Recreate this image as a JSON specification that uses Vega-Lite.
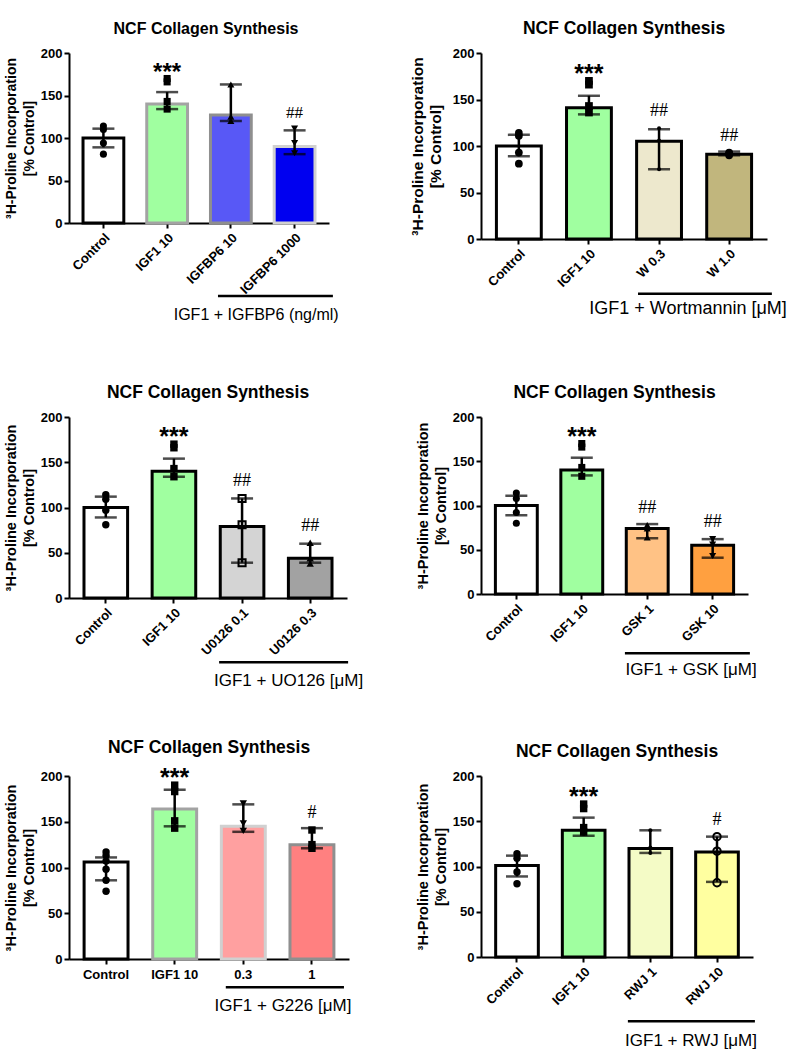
{
 "$schema": "https://vega.github.io/schema/vega-lite/v6.json",
 "background": "white",
 "padding": {"left": 3, "top": 19, "right": 0, "bottom": 0},
 "datasets": {
  "b1": [
   {"g": "Control", "mean": 100, "lo": 89, "hi": 111},
   {"g": "IGF1 10", "mean": 140, "lo": 134, "hi": 154, "sig": "***"},
   {"g": "IGFBP6 10", "mean": 127, "lo": 120, "hi": 163},
   {"g": "IGFBP6 1000", "mean": 90, "lo": 81, "hi": 109, "sig": "##"}
  ],
  "p1": [
   {"g": "Control", "v": 114}, {"g": "Control", "v": 110}, {"g": "Control", "v": 94}, {"g": "Control", "v": 81},
   {"g": "IGF1 10", "v": 170}, {"g": "IGF1 10", "v": 166}, {"g": "IGF1 10", "v": 143}, {"g": "IGF1 10", "v": 134},
   {"g": "IGFBP6 10", "v": 163}, {"g": "IGFBP6 10", "v": 125}, {"g": "IGFBP6 10", "v": 120},
   {"g": "IGFBP6 1000", "v": 111}, {"g": "IGFBP6 1000", "v": 94}, {"g": "IGFBP6 1000", "v": 82}
  ],
  "b2": [
   {"g": "Control", "mean": 100, "lo": 89, "hi": 112},
   {"g": "IGF1 10", "mean": 141, "lo": 134, "hi": 154, "sig": "***"},
   {"g": "W 0.3", "mean": 105, "lo": 75, "hi": 118, "sig": "##"},
   {"g": "W 1.0", "mean": 91, "lo": 90, "hi": 94, "sig": "##"}
  ],
  "p2": [
   {"g": "Control", "v": 114}, {"g": "Control", "v": 111}, {"g": "Control", "v": 93}, {"g": "Control", "v": 81},
   {"g": "IGF1 10", "v": 170}, {"g": "IGF1 10", "v": 166}, {"g": "IGF1 10", "v": 143}, {"g": "IGF1 10", "v": 136},
   {"g": "W 0.3", "v": 119}, {"g": "W 0.3", "v": 106}, {"g": "W 0.3", "v": 75},
   {"g": "W 1.0", "v": 93}, {"g": "W 1.0", "v": 92}, {"g": "W 1.0", "v": 90}
  ],
  "b3": [
   {"g": "Control", "mean": 100, "lo": 89, "hi": 112},
   {"g": "IGF1 10", "mean": 140, "lo": 134, "hi": 154, "sig": "***"},
   {"g": "U0126 0.1", "mean": 79, "lo": 39, "hi": 110, "sig": "##"},
   {"g": "U0126 0.3", "mean": 44, "lo": 39, "hi": 60, "sig": "##"}
  ],
  "p3": [
   {"g": "Control", "v": 114}, {"g": "Control", "v": 109}, {"g": "Control", "v": 97}, {"g": "Control", "v": 81},
   {"g": "IGF1 10", "v": 170}, {"g": "IGF1 10", "v": 166}, {"g": "IGF1 10", "v": 143}, {"g": "IGF1 10", "v": 134},
   {"g": "U0126 0.1", "v": 110}, {"g": "U0126 0.1", "v": 81}, {"g": "U0126 0.1", "v": 39},
   {"g": "U0126 0.3", "v": 61}, {"g": "U0126 0.3", "v": 44}, {"g": "U0126 0.3", "v": 38}
  ],
  "b4": [
   {"g": "Control", "mean": 100, "lo": 89, "hi": 111},
   {"g": "IGF1 10", "mean": 140, "lo": 134, "hi": 154, "sig": "***"},
   {"g": "GSK 1", "mean": 74, "lo": 63, "hi": 79, "sig": "##"},
   {"g": "GSK 10", "mean": 55, "lo": 41, "hi": 62, "sig": "##"}
  ],
  "p4": [
   {"g": "Control", "v": 114}, {"g": "Control", "v": 108}, {"g": "Control", "v": 92}, {"g": "Control", "v": 80},
   {"g": "IGF1 10", "v": 170}, {"g": "IGF1 10", "v": 166}, {"g": "IGF1 10", "v": 143}, {"g": "IGF1 10", "v": 133},
   {"g": "GSK 1", "v": 78}, {"g": "GSK 1", "v": 74}, {"g": "GSK 1", "v": 64},
   {"g": "GSK 10", "v": 62}, {"g": "GSK 10", "v": 56}, {"g": "GSK 10", "v": 43}
  ],
  "b5": [
   {"g": "Control", "mean": 106, "lo": 86, "hi": 111},
   {"g": "IGF1 10", "mean": 164, "lo": 145, "hi": 185, "sig": "***"},
   {"g": "0.3", "mean": 145, "lo": 139, "hi": 169},
   {"g": "1", "mean": 125, "lo": 121, "hi": 143, "sig": "#"}
  ],
  "p5": [
   {"g": "Control", "v": 117}, {"g": "Control", "v": 113}, {"g": "Control", "v": 107}, {"g": "Control", "v": 98}, {"g": "Control", "v": 86}, {"g": "Control", "v": 74},
   {"g": "IGF1 10", "v": 190}, {"g": "IGF1 10", "v": 183}, {"g": "IGF1 10", "v": 151}, {"g": "IGF1 10", "v": 143},
   {"g": "0.3", "v": 170}, {"g": "0.3", "v": 148}, {"g": "0.3", "v": 140},
   {"g": "1", "v": 141}, {"g": "1", "v": 125}, {"g": "1", "v": 121}
  ],
  "b6": [
   {"g": "Control", "mean": 101, "lo": 89, "hi": 112},
   {"g": "IGF1 10", "mean": 140, "lo": 134, "hi": 154, "sig": "***"},
   {"g": "RWJ 1", "mean": 120, "lo": 115, "hi": 140},
   {"g": "RWJ 10", "mean": 116, "lo": 83, "hi": 133, "sig": "#"}
  ],
  "p6": [
   {"g": "Control", "v": 114}, {"g": "Control", "v": 109}, {"g": "Control", "v": 94}, {"g": "Control", "v": 81},
   {"g": "IGF1 10", "v": 169}, {"g": "IGF1 10", "v": 164}, {"g": "IGF1 10", "v": 143}, {"g": "IGF1 10", "v": 138},
   {"g": "RWJ 1", "v": 140}, {"g": "RWJ 1", "v": 121}, {"g": "RWJ 1", "v": 115},
   {"g": "RWJ 10", "v": 133}, {"g": "RWJ 10", "v": 117}, {"g": "RWJ 10", "v": 82}
  ]
 },
 "columns": 2,
 "bounds": "flush",
 "align": "each",
 "spacing": {"row": 178, "column": 132},
 "resolve": {"scale": {"fill": "independent", "stroke": "independent", "shape": "independent"}},
 "concat": [
  {
   "width": 260, "height": 170,
   "title": {"text": "NCF Collagen Synthesis", "fontSize": 16, "dx": 7},
   "resolve": {"scale": {"x": "independent"}},
   "layer": [
    {"data": {"name": "b1"}, "mark": {"type": "bar", "strokeWidth": 3},
     "encoding": {
      "x": {"field": "g", "type": "nominal", "sort": null, "scale": {"type": "band", "domain": ["Control", "IGF1 10", "IGFBP6 10", "IGFBP6 1000"], "paddingInner": 0.36, "paddingOuter": 0.22}, "axis": {"title": null}},
      "y": {"field": "mean", "type": "quantitative", "scale": {"domain": [0, 200]}, "axis": {"values": [0, 50, 100, 150, 200], "title": ["³H-Proline Incorporation", "[% Control]"], "titleFontSize": 14}},
      "fill": {"field": "g", "type": "nominal", "scale": {"domain": ["Control", "IGF1 10", "IGFBP6 10", "IGFBP6 1000"], "range": ["#ffffff", "#a0ffa0", "#5858f6", "#0000f0"]}, "legend": null},
      "stroke": {"field": "g", "type": "nominal", "scale": {"domain": ["Control", "IGF1 10", "IGFBP6 10", "IGFBP6 1000"], "range": ["#000000", "#a3a3a3", "#8f8f8f", "#d0d0d0"]}, "legend": null}}},
    {"data": {"name": "b1"}, "mark": {"type": "rule", "strokeWidth": 2.5, "color": "black"},
     "encoding": {
      "x": {"field": "g", "type": "nominal", "sort": null, "scale": {"type": "band", "domain": ["Control", "IGF1 10", "IGFBP6 10", "IGFBP6 1000"], "paddingInner": 0.36, "paddingOuter": 0.22}, "axis": null},
      "y": {"field": "lo", "type": "quantitative", "scale": {"domain": [0, 200]}},
      "y2": {"field": "hi"}}},
    {"data": {"name": "b1"}, "mark": {"type": "tick", "thickness": 2.5, "size": 22, "color": "black"},
     "encoding": {
      "x": {"field": "g", "type": "nominal", "sort": null, "scale": {"type": "band", "domain": ["Control", "IGF1 10", "IGFBP6 10", "IGFBP6 1000"], "paddingInner": 0.36, "paddingOuter": 0.22}, "axis": null},
      "y": {"field": "hi", "type": "quantitative", "scale": {"domain": [0, 200]}}}},
    {"data": {"name": "b1"}, "mark": {"type": "tick", "thickness": 2.5, "size": 22, "color": "black"},
     "encoding": {
      "x": {"field": "g", "type": "nominal", "sort": null, "scale": {"type": "band", "domain": ["Control", "IGF1 10", "IGFBP6 10", "IGFBP6 1000"], "paddingInner": 0.36, "paddingOuter": 0.22}, "axis": null},
      "y": {"field": "lo", "type": "quantitative", "scale": {"domain": [0, 200]}}}},
    {"data": {"name": "p1"}, "mark": {"type": "point", "filled": true, "color": "black", "opacity": 1, "size": 50},
     "encoding": {
      "x": {"field": "g", "type": "nominal", "sort": null, "scale": {"type": "band", "domain": ["Control", "IGF1 10", "IGFBP6 10", "IGFBP6 1000"], "paddingInner": 0.36, "paddingOuter": 0.22}, "axis": null},
      "y": {"field": "v", "type": "quantitative", "scale": {"domain": [0, 200]}},
      "shape": {"field": "g", "type": "nominal", "scale": {"domain": ["Control", "IGF1 10", "IGFBP6 10", "IGFBP6 1000"], "range": ["circle", "square", "triangle-up", "triangle-down"]}, "legend": null}}},
    {"data": {"name": "p1"},
     "transform": [{"aggregate": [{"op": "max", "field": "v", "as": "top"}], "groupby": ["g"]}, {"lookup": "g", "from": {"data": {"name": "b1"}, "key": "g", "fields": ["sig"]}}, {"filter": "datum.sig === '***'"}],
     "mark": {"type": "text", "font": "Liberation Sans", "fontWeight": "bold", "fontSize": 24, "baseline": "alphabetic", "dy": 1, "color": "black"},
     "encoding": {
      "x": {"field": "g", "type": "nominal", "sort": null, "scale": {"type": "band", "domain": ["Control", "IGF1 10", "IGFBP6 10", "IGFBP6 1000"], "paddingInner": 0.36, "paddingOuter": 0.22}, "axis": null},
      "y": {"field": "top", "type": "quantitative", "scale": {"domain": [0, 200]}},
      "text": {"field": "sig"}}},
    {"data": {"name": "p1"},
     "transform": [{"aggregate": [{"op": "max", "field": "v", "as": "top"}], "groupby": ["g"]}, {"lookup": "g", "from": {"data": {"name": "b1"}, "key": "g", "fields": ["sig"]}}, {"filter": "datum.sig && datum.sig !== '***'"}],
     "mark": {"type": "text", "font": "Liberation Serif", "fontSize": 17, "baseline": "alphabetic", "dy": -11, "color": "black"},
     "encoding": {
      "x": {"field": "g", "type": "nominal", "sort": null, "scale": {"type": "band", "domain": ["Control", "IGF1 10", "IGFBP6 10", "IGFBP6 1000"], "paddingInner": 0.36, "paddingOuter": 0.22}, "axis": null},
      "y": {"field": "top", "type": "quantitative", "scale": {"domain": [0, 200]}},
      "text": {"field": "sig"}}},
    {"data": {"values": [{}]}, "mark": {"type": "rule", "strokeWidth": 2.5, "color": "black"},
     "encoding": {
      "x": {"datum": 0.573, "type": "quantitative", "scale": {"domain": [0, 1]}, "axis": null},
      "x2": {"datum": 1.015},
      "y": {"datum": -86, "type": "quantitative", "scale": {"domain": [0, 200]}}}},
    {"data": {"values": [{}]}, "mark": {"type": "text", "font": "Liberation Sans", "fontSize": 16, "align": "center", "baseline": "middle", "color": "black"},
     "encoding": {
      "x": {"datum": 0.72, "type": "quantitative", "scale": {"domain": [0, 1]}, "axis": null},
      "y": {"datum": -108, "type": "quantitative", "scale": {"domain": [0, 200]}},
      "text": {"value": "IGF1 + IGFBP6 (ng/ml)"}}}
   ]
  },
  {
   "width": 286, "height": 186,
   "title": {"text": "NCF Collagen Synthesis"},
   "resolve": {"scale": {"x": "independent"}},
   "layer": [
    {"data": {"name": "b2"}, "mark": {"type": "bar", "strokeWidth": 3},
     "encoding": {
      "x": {"field": "g", "type": "nominal", "sort": null, "scale": {"type": "band", "domain": ["Control", "IGF1 10", "W 0.3", "W 1.0"], "paddingInner": 0.36, "paddingOuter": 0.22}, "axis": {"title": null}},
      "y": {"field": "mean", "type": "quantitative", "scale": {"domain": [0, 200]}, "axis": {"values": [0, 50, 100, 150, 200], "title": ["³H-Proline Incorporation", "[% Control]"], "titleFontSize": 15.5, "titlePadding": 9}},
      "fill": {"field": "g", "type": "nominal", "scale": {"domain": ["Control", "IGF1 10", "W 0.3", "W 1.0"], "range": ["#ffffff", "#a0ffa0", "#ede8cd", "#c1b67d"]}, "legend": null},
      "stroke": {"field": "g", "type": "nominal", "scale": {"domain": ["Control", "IGF1 10", "W 0.3", "W 1.0"], "range": ["#000000", "#000000", "#000000", "#000000"]}, "legend": null}}},
    {"data": {"name": "b2"}, "mark": {"type": "rule", "strokeWidth": 2.5, "color": "black"},
     "encoding": {
      "x": {"field": "g", "type": "nominal", "sort": null, "scale": {"type": "band", "domain": ["Control", "IGF1 10", "W 0.3", "W 1.0"], "paddingInner": 0.36, "paddingOuter": 0.22}, "axis": null},
      "y": {"field": "lo", "type": "quantitative", "scale": {"domain": [0, 200]}},
      "y2": {"field": "hi"}}},
    {"data": {"name": "b2"}, "mark": {"type": "tick", "thickness": 2.5, "size": 22, "color": "black"},
     "encoding": {
      "x": {"field": "g", "type": "nominal", "sort": null, "scale": {"type": "band", "domain": ["Control", "IGF1 10", "W 0.3", "W 1.0"], "paddingInner": 0.36, "paddingOuter": 0.22}, "axis": null},
      "y": {"field": "hi", "type": "quantitative", "scale": {"domain": [0, 200]}}}},
    {"data": {"name": "b2"}, "mark": {"type": "tick", "thickness": 2.5, "size": 22, "color": "black"},
     "encoding": {
      "x": {"field": "g", "type": "nominal", "sort": null, "scale": {"type": "band", "domain": ["Control", "IGF1 10", "W 0.3", "W 1.0"], "paddingInner": 0.36, "paddingOuter": 0.22}, "axis": null},
      "y": {"field": "lo", "type": "quantitative", "scale": {"domain": [0, 200]}}}},
    {"data": {"name": "p2"}, "transform": [{"filter": {"field": "g", "oneOf": ["Control", "IGF1 10", "W 1.0"]}}],
     "mark": {"type": "point", "filled": true, "color": "black", "opacity": 1, "size": 60},
     "encoding": {
      "x": {"field": "g", "type": "nominal", "sort": null, "scale": {"type": "band", "domain": ["Control", "IGF1 10", "W 0.3", "W 1.0"], "paddingInner": 0.36, "paddingOuter": 0.22}, "axis": null},
      "y": {"field": "v", "type": "quantitative", "scale": {"domain": [0, 200]}},
      "shape": {"field": "g", "type": "nominal", "scale": {"domain": ["Control", "IGF1 10", "W 0.3", "W 1.0"], "range": ["circle", "square", "circle", "circle"]}, "legend": null}}},
    {"data": {"name": "p2"}, "transform": [{"filter": {"field": "g", "oneOf": ["W 0.3"]}}],
     "mark": {"type": "point", "filled": true, "color": "black", "opacity": 1, "size": 16, "shape": "circle"},
     "encoding": {
      "x": {"field": "g", "type": "nominal", "sort": null, "scale": {"type": "band", "domain": ["Control", "IGF1 10", "W 0.3", "W 1.0"], "paddingInner": 0.36, "paddingOuter": 0.22}, "axis": null},
      "y": {"field": "v", "type": "quantitative", "scale": {"domain": [0, 200]}}}},
    {"data": {"name": "p2"},
     "transform": [{"aggregate": [{"op": "max", "field": "v", "as": "top"}], "groupby": ["g"]}, {"lookup": "g", "from": {"data": {"name": "b2"}, "key": "g", "fields": ["sig"]}}, {"filter": "datum.sig === '***'"}],
     "mark": {"type": "text", "font": "Liberation Sans", "fontWeight": "bold", "fontSize": 25, "baseline": "alphabetic", "dy": 1, "color": "black"},
     "encoding": {
      "x": {"field": "g", "type": "nominal", "sort": null, "scale": {"type": "band", "domain": ["Control", "IGF1 10", "W 0.3", "W 1.0"], "paddingInner": 0.36, "paddingOuter": 0.22}, "axis": null},
      "y": {"field": "top", "type": "quantitative", "scale": {"domain": [0, 200]}},
      "text": {"field": "sig"}}},
    {"data": {"name": "p2"},
     "transform": [{"aggregate": [{"op": "max", "field": "v", "as": "top"}], "groupby": ["g"]}, {"lookup": "g", "from": {"data": {"name": "b2"}, "key": "g", "fields": ["sig"]}}, {"filter": "datum.sig && datum.sig !== '***'"}],
     "mark": {"type": "text", "font": "Liberation Serif", "fontSize": 18, "baseline": "alphabetic", "dy": -12, "color": "black"},
     "encoding": {
      "x": {"field": "g", "type": "nominal", "sort": null, "scale": {"type": "band", "domain": ["Control", "IGF1 10", "W 0.3", "W 1.0"], "paddingInner": 0.36, "paddingOuter": 0.22}, "axis": null},
      "y": {"field": "top", "type": "quantitative", "scale": {"domain": [0, 200]}},
      "text": {"field": "sig"}}},
    {"data": {"values": [{}]}, "mark": {"type": "rule", "strokeWidth": 2.5, "color": "black"},
     "encoding": {
      "x": {"datum": 0.549, "type": "quantitative", "scale": {"domain": [0, 1]}, "axis": null},
      "x2": {"datum": 1.017},
      "y": {"datum": -59, "type": "quantitative", "scale": {"domain": [0, 200]}}}},
    {"data": {"values": [{}]}, "mark": {"type": "text", "font": "Liberation Sans", "fontSize": 18, "align": "center", "baseline": "middle", "color": "black"},
     "encoding": {
      "x": {"datum": 0.724, "type": "quantitative", "scale": {"domain": [0, 1]}, "axis": null},
      "y": {"datum": -75, "type": "quantitative", "scale": {"domain": [0, 200]}},
      "text": {"value": "IGF1 + Wortmannin [μM]"}}}
   ]
  },
  {
   "width": 278, "height": 181,
   "title": {"text": "NCF Collagen Synthesis"},
   "resolve": {"scale": {"x": "independent"}},
   "layer": [
    {"data": {"name": "b3"}, "mark": {"type": "bar", "strokeWidth": 3},
     "encoding": {
      "x": {"field": "g", "type": "nominal", "sort": null, "scale": {"type": "band", "domain": ["Control", "IGF1 10", "U0126 0.1", "U0126 0.3"], "paddingInner": 0.36, "paddingOuter": 0.22}, "axis": {"title": null}},
      "y": {"field": "mean", "type": "quantitative", "scale": {"domain": [0, 200]}, "axis": {"values": [0, 50, 100, 150, 200], "title": ["³H-Proline Incorporation", "[%  Control]"]}},
      "fill": {"field": "g", "type": "nominal", "scale": {"domain": ["Control", "IGF1 10", "U0126 0.1", "U0126 0.3"], "range": ["#ffffff", "#a0ffa0", "#d4d4d4", "#a2a2a2"]}, "legend": null},
      "stroke": {"field": "g", "type": "nominal", "scale": {"domain": ["Control", "IGF1 10", "U0126 0.1", "U0126 0.3"], "range": ["#000000", "#000000", "#000000", "#000000"]}, "legend": null}}},
    {"data": {"name": "b3"}, "mark": {"type": "rule", "strokeWidth": 2.5, "color": "black"},
     "encoding": {
      "x": {"field": "g", "type": "nominal", "sort": null, "scale": {"type": "band", "domain": ["Control", "IGF1 10", "U0126 0.1", "U0126 0.3"], "paddingInner": 0.36, "paddingOuter": 0.22}, "axis": null},
      "y": {"field": "lo", "type": "quantitative", "scale": {"domain": [0, 200]}},
      "y2": {"field": "hi"}}},
    {"data": {"name": "b3"}, "mark": {"type": "tick", "thickness": 2.5, "size": 22, "color": "black"},
     "encoding": {
      "x": {"field": "g", "type": "nominal", "sort": null, "scale": {"type": "band", "domain": ["Control", "IGF1 10", "U0126 0.1", "U0126 0.3"], "paddingInner": 0.36, "paddingOuter": 0.22}, "axis": null},
      "y": {"field": "hi", "type": "quantitative", "scale": {"domain": [0, 200]}}}},
    {"data": {"name": "b3"}, "mark": {"type": "tick", "thickness": 2.5, "size": 22, "color": "black"},
     "encoding": {
      "x": {"field": "g", "type": "nominal", "sort": null, "scale": {"type": "band", "domain": ["Control", "IGF1 10", "U0126 0.1", "U0126 0.3"], "paddingInner": 0.36, "paddingOuter": 0.22}, "axis": null},
      "y": {"field": "lo", "type": "quantitative", "scale": {"domain": [0, 200]}}}},
    {"data": {"name": "p3"}, "transform": [{"filter": {"field": "g", "oneOf": ["Control", "IGF1 10", "U0126 0.3"]}}],
     "mark": {"type": "point", "filled": true, "color": "black", "opacity": 1, "size": 55},
     "encoding": {
      "x": {"field": "g", "type": "nominal", "sort": null, "scale": {"type": "band", "domain": ["Control", "IGF1 10", "U0126 0.1", "U0126 0.3"], "paddingInner": 0.36, "paddingOuter": 0.22}, "axis": null},
      "y": {"field": "v", "type": "quantitative", "scale": {"domain": [0, 200]}},
      "shape": {"field": "g", "type": "nominal", "scale": {"domain": ["Control", "IGF1 10", "U0126 0.1", "U0126 0.3"], "range": ["circle", "square", "square", "triangle-up"]}, "legend": null}}},
    {"data": {"name": "p3"}, "transform": [{"filter": {"field": "g", "oneOf": ["U0126 0.1"]}}],
     "mark": {"type": "point", "filled": false, "color": "black", "opacity": 1, "size": 50, "shape": "square", "strokeWidth": 2},
     "encoding": {
      "x": {"field": "g", "type": "nominal", "sort": null, "scale": {"type": "band", "domain": ["Control", "IGF1 10", "U0126 0.1", "U0126 0.3"], "paddingInner": 0.36, "paddingOuter": 0.22}, "axis": null},
      "y": {"field": "v", "type": "quantitative", "scale": {"domain": [0, 200]}}}},
    {"data": {"name": "p3"},
     "transform": [{"aggregate": [{"op": "max", "field": "v", "as": "top"}], "groupby": ["g"]}, {"lookup": "g", "from": {"data": {"name": "b3"}, "key": "g", "fields": ["sig"]}}, {"filter": "datum.sig === '***'"}],
     "mark": {"type": "text", "font": "Liberation Sans", "fontWeight": "bold", "fontSize": 25, "baseline": "alphabetic", "dy": 1, "color": "black"},
     "encoding": {
      "x": {"field": "g", "type": "nominal", "sort": null, "scale": {"type": "band", "domain": ["Control", "IGF1 10", "U0126 0.1", "U0126 0.3"], "paddingInner": 0.36, "paddingOuter": 0.22}, "axis": null},
      "y": {"field": "top", "type": "quantitative", "scale": {"domain": [0, 200]}},
      "text": {"field": "sig"}}},
    {"data": {"name": "p3"},
     "transform": [{"aggregate": [{"op": "max", "field": "v", "as": "top"}], "groupby": ["g"]}, {"lookup": "g", "from": {"data": {"name": "b3"}, "key": "g", "fields": ["sig"]}}, {"filter": "datum.sig && datum.sig !== '***'"}],
     "mark": {"type": "text", "font": "Liberation Serif", "fontSize": 18, "baseline": "alphabetic", "dy": -12, "color": "black"},
     "encoding": {
      "x": {"field": "g", "type": "nominal", "sort": null, "scale": {"type": "band", "domain": ["Control", "IGF1 10", "U0126 0.1", "U0126 0.3"], "paddingInner": 0.36, "paddingOuter": 0.22}, "axis": null},
      "y": {"field": "top", "type": "quantitative", "scale": {"domain": [0, 200]}},
      "text": {"field": "sig"}}},
    {"data": {"values": [{}]}, "mark": {"type": "rule", "strokeWidth": 2.5, "color": "black"},
     "encoding": {
      "x": {"datum": 0.54, "type": "quantitative", "scale": {"domain": [0, 1]}, "axis": null},
      "x2": {"datum": 1.004},
      "y": {"datum": -71, "type": "quantitative", "scale": {"domain": [0, 200]}}}},
    {"data": {"values": [{}]}, "mark": {"type": "text", "font": "Liberation Sans", "fontSize": 17, "align": "center", "baseline": "middle", "color": "black"},
     "encoding": {
      "x": {"datum": 0.79, "type": "quantitative", "scale": {"domain": [0, 1]}, "axis": null},
      "y": {"datum": -92, "type": "quantitative", "scale": {"domain": [0, 200]}},
      "text": {"value": "IGF1 + UO126 [μM]"}}}
   ]
  },
  {
   "width": 267, "height": 177,
   "title": {"text": "NCF Collagen Synthesis"},
   "resolve": {"scale": {"x": "independent"}},
   "layer": [
    {"data": {"name": "b4"}, "mark": {"type": "bar", "strokeWidth": 3},
     "encoding": {
      "x": {"field": "g", "type": "nominal", "sort": null, "scale": {"type": "band", "domain": ["Control", "IGF1 10", "GSK 1", "GSK 10"], "paddingInner": 0.36, "paddingOuter": 0.22}, "axis": {"title": null}},
      "y": {"field": "mean", "type": "quantitative", "scale": {"domain": [0, 200]}, "axis": {"values": [0, 50, 100, 150, 200], "title": ["³H-Proline Incorporation", "[% Control]"]}},
      "fill": {"field": "g", "type": "nominal", "scale": {"domain": ["Control", "IGF1 10", "GSK 1", "GSK 10"], "range": ["#ffffff", "#a0ffa0", "#ffc285", "#ffa040"]}, "legend": null},
      "stroke": {"field": "g", "type": "nominal", "scale": {"domain": ["Control", "IGF1 10", "GSK 1", "GSK 10"], "range": ["#000000", "#000000", "#000000", "#000000"]}, "legend": null}}},
    {"data": {"name": "b4"}, "mark": {"type": "rule", "strokeWidth": 2.5, "color": "black"},
     "encoding": {
      "x": {"field": "g", "type": "nominal", "sort": null, "scale": {"type": "band", "domain": ["Control", "IGF1 10", "GSK 1", "GSK 10"], "paddingInner": 0.36, "paddingOuter": 0.22}, "axis": null},
      "y": {"field": "lo", "type": "quantitative", "scale": {"domain": [0, 200]}},
      "y2": {"field": "hi"}}},
    {"data": {"name": "b4"}, "mark": {"type": "tick", "thickness": 2.5, "size": 22, "color": "black"},
     "encoding": {
      "x": {"field": "g", "type": "nominal", "sort": null, "scale": {"type": "band", "domain": ["Control", "IGF1 10", "GSK 1", "GSK 10"], "paddingInner": 0.36, "paddingOuter": 0.22}, "axis": null},
      "y": {"field": "hi", "type": "quantitative", "scale": {"domain": [0, 200]}}}},
    {"data": {"name": "b4"}, "mark": {"type": "tick", "thickness": 2.5, "size": 22, "color": "black"},
     "encoding": {
      "x": {"field": "g", "type": "nominal", "sort": null, "scale": {"type": "band", "domain": ["Control", "IGF1 10", "GSK 1", "GSK 10"], "paddingInner": 0.36, "paddingOuter": 0.22}, "axis": null},
      "y": {"field": "lo", "type": "quantitative", "scale": {"domain": [0, 200]}}}},
    {"data": {"name": "p4"},
     "mark": {"type": "point", "filled": true, "color": "black", "opacity": 1, "size": 50},
     "encoding": {
      "x": {"field": "g", "type": "nominal", "sort": null, "scale": {"type": "band", "domain": ["Control", "IGF1 10", "GSK 1", "GSK 10"], "paddingInner": 0.36, "paddingOuter": 0.22}, "axis": null},
      "y": {"field": "v", "type": "quantitative", "scale": {"domain": [0, 200]}},
      "shape": {"field": "g", "type": "nominal", "scale": {"domain": ["Control", "IGF1 10", "GSK 1", "GSK 10"], "range": ["circle", "square", "triangle-up", "triangle-down"]}, "legend": null}}},
    {"data": {"name": "p4"},
     "transform": [{"aggregate": [{"op": "max", "field": "v", "as": "top"}], "groupby": ["g"]}, {"lookup": "g", "from": {"data": {"name": "b4"}, "key": "g", "fields": ["sig"]}}, {"filter": "datum.sig === '***'"}],
     "mark": {"type": "text", "font": "Liberation Sans", "fontWeight": "bold", "fontSize": 25, "baseline": "alphabetic", "dy": 1, "color": "black"},
     "encoding": {
      "x": {"field": "g", "type": "nominal", "sort": null, "scale": {"type": "band", "domain": ["Control", "IGF1 10", "GSK 1", "GSK 10"], "paddingInner": 0.36, "paddingOuter": 0.22}, "axis": null},
      "y": {"field": "top", "type": "quantitative", "scale": {"domain": [0, 200]}},
      "text": {"field": "sig"}}},
    {"data": {"name": "p4"},
     "transform": [{"aggregate": [{"op": "max", "field": "v", "as": "top"}], "groupby": ["g"]}, {"lookup": "g", "from": {"data": {"name": "b4"}, "key": "g", "fields": ["sig"]}}, {"filter": "datum.sig && datum.sig !== '***'"}],
     "mark": {"type": "text", "font": "Liberation Serif", "fontSize": 18, "baseline": "alphabetic", "dy": -12, "color": "black"},
     "encoding": {
      "x": {"field": "g", "type": "nominal", "sort": null, "scale": {"type": "band", "domain": ["Control", "IGF1 10", "GSK 1", "GSK 10"], "paddingInner": 0.36, "paddingOuter": 0.22}, "axis": null},
      "y": {"field": "top", "type": "quantitative", "scale": {"domain": [0, 200]}},
      "text": {"field": "sig"}}},
    {"data": {"values": [{}]}, "mark": {"type": "rule", "strokeWidth": 2.5, "color": "black"},
     "encoding": {
      "x": {"datum": 0.539, "type": "quantitative", "scale": {"domain": [0, 1]}, "axis": null},
      "x2": {"datum": 1.007},
      "y": {"datum": -67, "type": "quantitative", "scale": {"domain": [0, 200]}}}},
    {"data": {"values": [{}]}, "mark": {"type": "text", "font": "Liberation Sans", "fontSize": 17, "align": "center", "baseline": "middle", "color": "black"},
     "encoding": {
      "x": {"datum": 0.787, "type": "quantitative", "scale": {"domain": [0, 1]}, "axis": null},
      "y": {"datum": -86, "type": "quantitative", "scale": {"domain": [0, 200]}},
      "text": {"value": "IGF1 + GSK [μM]"}}}
   ]
  },
  {
   "width": 280, "height": 183,
   "title": {"text": "NCF Collagen Synthesis"},
   "resolve": {"scale": {"x": "independent"}},
   "layer": [
    {"data": {"name": "b5"}, "mark": {"type": "bar", "strokeWidth": 3},
     "encoding": {
      "x": {"field": "g", "type": "nominal", "sort": null, "scale": {"type": "band", "domain": ["Control", "IGF1 10", "0.3", "1"], "paddingInner": 0.36, "paddingOuter": 0.22}, "axis": {"title": null, "labelAngle": 0, "labelPadding": 4}},
      "y": {"field": "mean", "type": "quantitative", "scale": {"domain": [0, 200]}, "axis": {"values": [0, 50, 100, 150, 200], "title": ["³H-Proline Incorporation", "[% Control]"]}},
      "fill": {"field": "g", "type": "nominal", "scale": {"domain": ["Control", "IGF1 10", "0.3", "1"], "range": ["#ffffff", "#a0ffa0", "#ffa0a0", "#ff8080"]}, "legend": null},
      "stroke": {"field": "g", "type": "nominal", "scale": {"domain": ["Control", "IGF1 10", "0.3", "1"], "range": ["#000000", "#a3a3a3", "#d0d0d0", "#8f8f8f"]}, "legend": null}}},
    {"data": {"name": "b5"}, "mark": {"type": "rule", "strokeWidth": 2.5, "color": "black"},
     "encoding": {
      "x": {"field": "g", "type": "nominal", "sort": null, "scale": {"type": "band", "domain": ["Control", "IGF1 10", "0.3", "1"], "paddingInner": 0.36, "paddingOuter": 0.22}, "axis": null},
      "y": {"field": "lo", "type": "quantitative", "scale": {"domain": [0, 200]}},
      "y2": {"field": "hi"}}},
    {"data": {"name": "b5"}, "mark": {"type": "tick", "thickness": 2.5, "size": 22, "color": "black"},
     "encoding": {
      "x": {"field": "g", "type": "nominal", "sort": null, "scale": {"type": "band", "domain": ["Control", "IGF1 10", "0.3", "1"], "paddingInner": 0.36, "paddingOuter": 0.22}, "axis": null},
      "y": {"field": "hi", "type": "quantitative", "scale": {"domain": [0, 200]}}}},
    {"data": {"name": "b5"}, "mark": {"type": "tick", "thickness": 2.5, "size": 22, "color": "black"},
     "encoding": {
      "x": {"field": "g", "type": "nominal", "sort": null, "scale": {"type": "band", "domain": ["Control", "IGF1 10", "0.3", "1"], "paddingInner": 0.36, "paddingOuter": 0.22}, "axis": null},
      "y": {"field": "lo", "type": "quantitative", "scale": {"domain": [0, 200]}}}},
    {"data": {"name": "p5"},
     "mark": {"type": "point", "filled": true, "color": "black", "opacity": 1, "size": 55},
     "encoding": {
      "x": {"field": "g", "type": "nominal", "sort": null, "scale": {"type": "band", "domain": ["Control", "IGF1 10", "0.3", "1"], "paddingInner": 0.36, "paddingOuter": 0.22}, "axis": null},
      "y": {"field": "v", "type": "quantitative", "scale": {"domain": [0, 200]}},
      "shape": {"field": "g", "type": "nominal", "scale": {"domain": ["Control", "IGF1 10", "0.3", "1"], "range": ["circle", "square", "triangle-down", "square"]}, "legend": null}}},
    {"data": {"name": "p5"},
     "transform": [{"aggregate": [{"op": "max", "field": "v", "as": "top"}], "groupby": ["g"]}, {"lookup": "g", "from": {"data": {"name": "b5"}, "key": "g", "fields": ["sig"]}}, {"filter": "datum.sig === '***'"}],
     "mark": {"type": "text", "font": "Liberation Sans", "fontWeight": "bold", "fontSize": 25, "baseline": "alphabetic", "dy": 1, "color": "black"},
     "encoding": {
      "x": {"field": "g", "type": "nominal", "sort": null, "scale": {"type": "band", "domain": ["Control", "IGF1 10", "0.3", "1"], "paddingInner": 0.36, "paddingOuter": 0.22}, "axis": null},
      "y": {"field": "top", "type": "quantitative", "scale": {"domain": [0, 200]}},
      "text": {"field": "sig"}}},
    {"data": {"name": "p5"},
     "transform": [{"aggregate": [{"op": "max", "field": "v", "as": "top"}], "groupby": ["g"]}, {"lookup": "g", "from": {"data": {"name": "b5"}, "key": "g", "fields": ["sig"]}}, {"filter": "datum.sig && datum.sig !== '***'"}],
     "mark": {"type": "text", "font": "Liberation Serif", "fontSize": 18, "baseline": "alphabetic", "dy": -12, "color": "black"},
     "encoding": {
      "x": {"field": "g", "type": "nominal", "sort": null, "scale": {"type": "band", "domain": ["Control", "IGF1 10", "0.3", "1"], "paddingInner": 0.36, "paddingOuter": 0.22}, "axis": null},
      "y": {"field": "top", "type": "quantitative", "scale": {"domain": [0, 200]}},
      "text": {"field": "sig"}}},
    {"data": {"values": [{}]}, "mark": {"type": "rule", "strokeWidth": 2.5, "color": "black"},
     "encoding": {
      "x": {"datum": 0.56, "type": "quantitative", "scale": {"domain": [0, 1]}, "axis": null},
      "x2": {"datum": 0.982},
      "y": {"datum": -31, "type": "quantitative", "scale": {"domain": [0, 200]}}}},
    {"data": {"values": [{}]}, "mark": {"type": "text", "font": "Liberation Sans", "fontSize": 17, "align": "center", "baseline": "middle", "color": "black"},
     "encoding": {
      "x": {"datum": 0.764, "type": "quantitative", "scale": {"domain": [0, 1]}, "axis": null},
      "y": {"datum": -51, "type": "quantitative", "scale": {"domain": [0, 200]}},
      "text": {"value": "IGF1 + G226 [μM]"}}}
   ]
  },
  {
   "width": 272, "height": 181,
   "title": {"text": "NCF Collagen Synthesis"},
   "resolve": {"scale": {"x": "independent"}},
   "layer": [
    {"data": {"name": "b6"}, "mark": {"type": "bar", "strokeWidth": 3},
     "encoding": {
      "x": {"field": "g", "type": "nominal", "sort": null, "scale": {"type": "band", "domain": ["Control", "IGF1 10", "RWJ 1", "RWJ 10"], "paddingInner": 0.36, "paddingOuter": 0.22}, "axis": {"title": null}},
      "y": {"field": "mean", "type": "quantitative", "scale": {"domain": [0, 200]}, "axis": {"values": [0, 50, 100, 150, 200], "title": ["³H-Proline Incorporation", "[%  Control]"]}},
      "fill": {"field": "g", "type": "nominal", "scale": {"domain": ["Control", "IGF1 10", "RWJ 1", "RWJ 10"], "range": ["#ffffff", "#a0ffa0", "#f4fbc6", "#ffffa0"]}, "legend": null},
      "stroke": {"field": "g", "type": "nominal", "scale": {"domain": ["Control", "IGF1 10", "RWJ 1", "RWJ 10"], "range": ["#000000", "#000000", "#000000", "#000000"]}, "legend": null}}},
    {"data": {"name": "b6"}, "mark": {"type": "rule", "strokeWidth": 2.5, "color": "black"},
     "encoding": {
      "x": {"field": "g", "type": "nominal", "sort": null, "scale": {"type": "band", "domain": ["Control", "IGF1 10", "RWJ 1", "RWJ 10"], "paddingInner": 0.36, "paddingOuter": 0.22}, "axis": null},
      "y": {"field": "lo", "type": "quantitative", "scale": {"domain": [0, 200]}},
      "y2": {"field": "hi"}}},
    {"data": {"name": "b6"}, "mark": {"type": "tick", "thickness": 2.5, "size": 22, "color": "black"},
     "encoding": {
      "x": {"field": "g", "type": "nominal", "sort": null, "scale": {"type": "band", "domain": ["Control", "IGF1 10", "RWJ 1", "RWJ 10"], "paddingInner": 0.36, "paddingOuter": 0.22}, "axis": null},
      "y": {"field": "hi", "type": "quantitative", "scale": {"domain": [0, 200]}}}},
    {"data": {"name": "b6"}, "mark": {"type": "tick", "thickness": 2.5, "size": 22, "color": "black"},
     "encoding": {
      "x": {"field": "g", "type": "nominal", "sort": null, "scale": {"type": "band", "domain": ["Control", "IGF1 10", "RWJ 1", "RWJ 10"], "paddingInner": 0.36, "paddingOuter": 0.22}, "axis": null},
      "y": {"field": "lo", "type": "quantitative", "scale": {"domain": [0, 200]}}}},
    {"data": {"name": "p6"}, "transform": [{"filter": {"field": "g", "oneOf": ["Control", "IGF1 10"]}}],
     "mark": {"type": "point", "filled": true, "color": "black", "opacity": 1, "size": 55},
     "encoding": {
      "x": {"field": "g", "type": "nominal", "sort": null, "scale": {"type": "band", "domain": ["Control", "IGF1 10", "RWJ 1", "RWJ 10"], "paddingInner": 0.36, "paddingOuter": 0.22}, "axis": null},
      "y": {"field": "v", "type": "quantitative", "scale": {"domain": [0, 200]}},
      "shape": {"field": "g", "type": "nominal", "scale": {"domain": ["Control", "IGF1 10", "RWJ 1", "RWJ 10"], "range": ["circle", "square", "circle", "circle"]}, "legend": null}}},
    {"data": {"name": "p6"}, "transform": [{"filter": {"field": "g", "oneOf": ["RWJ 1"]}}],
     "mark": {"type": "point", "filled": true, "color": "black", "opacity": 1, "size": 16, "shape": "circle"},
     "encoding": {
      "x": {"field": "g", "type": "nominal", "sort": null, "scale": {"type": "band", "domain": ["Control", "IGF1 10", "RWJ 1", "RWJ 10"], "paddingInner": 0.36, "paddingOuter": 0.22}, "axis": null},
      "y": {"field": "v", "type": "quantitative", "scale": {"domain": [0, 200]}}}},
    {"data": {"name": "p6"}, "transform": [{"filter": {"field": "g", "oneOf": ["RWJ 10"]}}],
     "mark": {"type": "point", "filled": false, "color": "black", "opacity": 1, "size": 55, "shape": "circle", "strokeWidth": 2},
     "encoding": {
      "x": {"field": "g", "type": "nominal", "sort": null, "scale": {"type": "band", "domain": ["Control", "IGF1 10", "RWJ 1", "RWJ 10"], "paddingInner": 0.36, "paddingOuter": 0.22}, "axis": null},
      "y": {"field": "v", "type": "quantitative", "scale": {"domain": [0, 200]}}}},
    {"data": {"name": "p6"},
     "transform": [{"aggregate": [{"op": "max", "field": "v", "as": "top"}], "groupby": ["g"]}, {"lookup": "g", "from": {"data": {"name": "b6"}, "key": "g", "fields": ["sig"]}}, {"filter": "datum.sig === '***'"}],
     "mark": {"type": "text", "font": "Liberation Sans", "fontWeight": "bold", "fontSize": 25, "baseline": "alphabetic", "dy": 1, "color": "black"},
     "encoding": {
      "x": {"field": "g", "type": "nominal", "sort": null, "scale": {"type": "band", "domain": ["Control", "IGF1 10", "RWJ 1", "RWJ 10"], "paddingInner": 0.36, "paddingOuter": 0.22}, "axis": null},
      "y": {"field": "top", "type": "quantitative", "scale": {"domain": [0, 200]}},
      "text": {"field": "sig"}}},
    {"data": {"name": "p6"},
     "transform": [{"aggregate": [{"op": "max", "field": "v", "as": "top"}], "groupby": ["g"]}, {"lookup": "g", "from": {"data": {"name": "b6"}, "key": "g", "fields": ["sig"]}}, {"filter": "datum.sig && datum.sig !== '***'"}],
     "mark": {"type": "text", "font": "Liberation Serif", "fontSize": 18, "baseline": "alphabetic", "dy": -12, "color": "black"},
     "encoding": {
      "x": {"field": "g", "type": "nominal", "sort": null, "scale": {"type": "band", "domain": ["Control", "IGF1 10", "RWJ 1", "RWJ 10"], "paddingInner": 0.36, "paddingOuter": 0.22}, "axis": null},
      "y": {"field": "top", "type": "quantitative", "scale": {"domain": [0, 200]}},
      "text": {"field": "sig"}}},
    {"data": {"values": [{}]}, "mark": {"type": "rule", "strokeWidth": 2.5, "color": "black"},
     "encoding": {
      "x": {"datum": 0.54, "type": "quantitative", "scale": {"domain": [0, 1]}, "axis": null},
      "x2": {"datum": 1.007},
      "y": {"datum": -71, "type": "quantitative", "scale": {"domain": [0, 200]}}}},
    {"data": {"values": [{}]}, "mark": {"type": "text", "font": "Liberation Sans", "fontSize": 17, "align": "center", "baseline": "middle", "color": "black"},
     "encoding": {
      "x": {"datum": 0.772, "type": "quantitative", "scale": {"domain": [0, 1]}, "axis": null},
      "y": {"datum": -93, "type": "quantitative", "scale": {"domain": [0, 200]}},
      "text": {"value": "IGF1 + RWJ [μM]"}}}
   ]
  }
 ],
 "config": {
  "font": "Liberation Sans",
  "view": {"stroke": null},
  "axis": {"domainColor": "black", "domainWidth": 2, "tickColor": "black", "tickWidth": 2, "tickSize": 5, "labelColor": "black", "labelFont": "Liberation Sans", "labelFontWeight": "bold", "labelFontSize": 13, "titleFont": "Liberation Sans", "titleFontWeight": "bold", "titleFontSize": 14.5, "titleColor": "black", "titleLineHeight": 18, "titlePadding": 4, "grid": false, "labelPadding": 2},
  "axisX": {"labelAngle": -45, "labelPadding": 3},
  "title": {"font": "Liberation Sans", "fontSize": 17.5, "fontWeight": "bold", "color": "black", "frame": "group", "offset": 10},
  "point": {"opacity": 1},
  "text": {"color": "black"}
 }
}
